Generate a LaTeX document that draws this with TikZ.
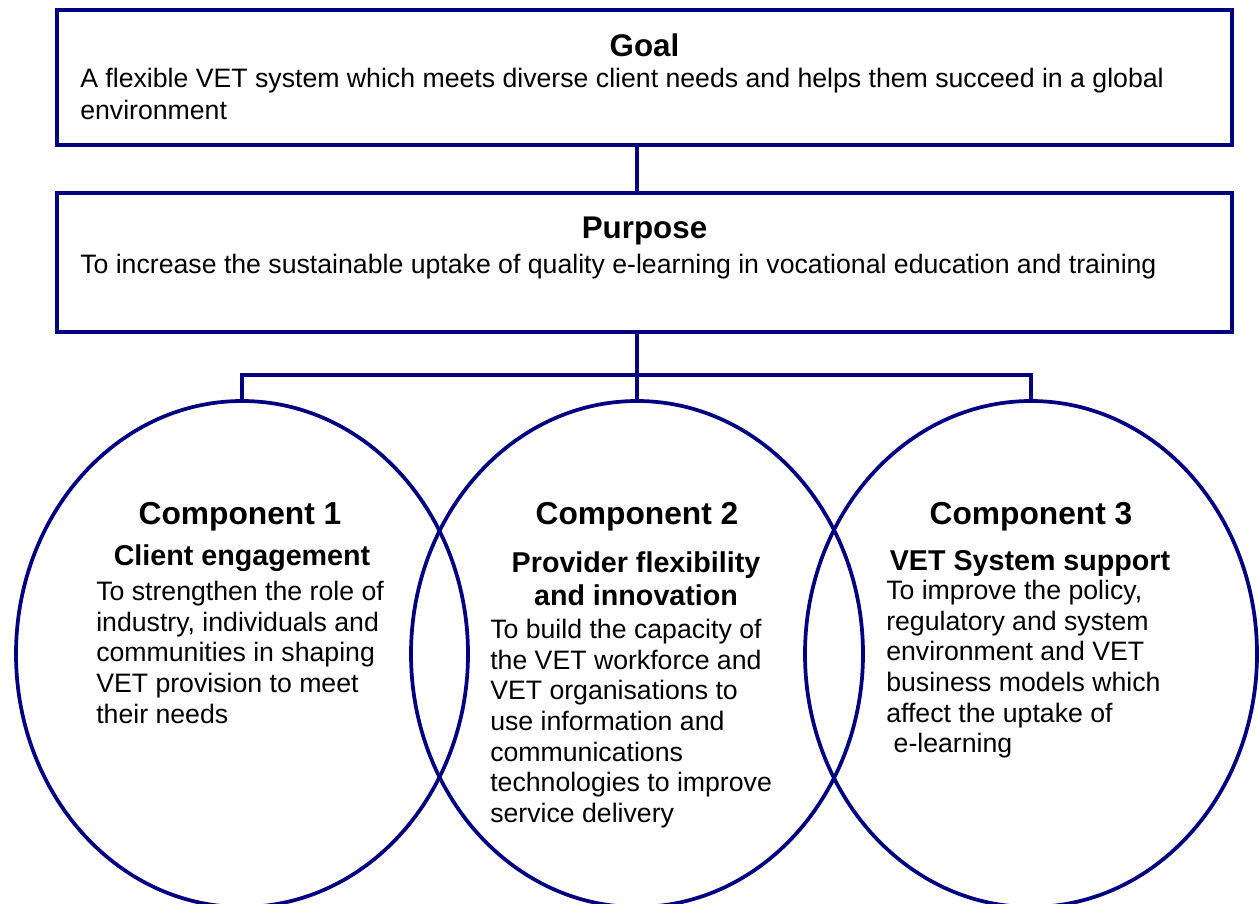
\documentclass[tikz,border=0pt]{standalone}
\usepackage{fontspec}
\setmainfont{Liberation Sans}
\usepackage{xcolor}
\usetikzlibrary{shapes.geometric, positioning, calc}
\definecolor{navyline}{RGB}{0,0,128}

\tikzset{
  panel/.style={draw=navyline, line width=2.8pt, minimum width=881.25pt, inner sep=0pt},
  part/.style={ellipse, draw=navyline, line width=2.8pt, minimum width=339pt, minimum height=379.5pt, inner sep=0pt},
  link/.style={draw=navyline, line width=2.8pt},
  title/.style={font=\bfseries\fontsize{23.5}{28}\selectfont, anchor=base, inner sep=0pt},
  heading/.style={font=\bfseries\fontsize{23.8}{28}\selectfont, anchor=base, inner sep=0pt},
  subhead/.style={font=\bfseries\fontsize{21.5}{24.75}\selectfont, align=center, anchor=north, inner sep=0pt},
  body/.style={font=\fontsize{20}{23}\selectfont, align=left, anchor=north west, inner sep=0pt}
}

\begin{document}
\begin{tikzpicture}[x=0.75pt, y=-0.75pt]
  \useasboundingbox (0,0) rectangle (1259,903);
  \clip (0,0) rectangle (1259,903);

  % Goal and purpose boxes
  \node[panel, minimum height=101.25pt] (goal) at (644.5,77.5) {};
  \node[title] (goaltitle) at (644.5,56) {Goal};
  \node[body, font=\fontsize{20}{24}\selectfont] (goaltext) at (80,68)
    {A flexible VET system which meets diverse client needs and helps them succeed in a global\\environment};

  \node[panel, minimum height=104.25pt] (purpose) at (644.5,262.5) {};
  \node[title] (purposetitle) at (644.5,238) {Purpose};
  \node[body] (purposetext) at (80,254)
    {To increase the sustainable uptake of quality e-learning in vocational education and training};

  % Components
  \node[part] (comp1) at (242,654) {};
  \node[part] (comp2) at (637,654) {};
  \node[part] (comp3) at (1031,654) {};

  \node[heading] (head1) at (240,524) {Component 1};
  \node[subhead] (sub1) at (242,544) {Client engagement};
  \node[body] (text1) at (96,581)
    {To strengthen the role of\\industry, individuals and\\communities in shaping\\VET provision to meet\\their needs};

  \node[heading] (head2) at (637,524) {Component 2};
  \node[subhead] (sub2) at (636,551) {Provider flexibility\\and innovation};
  \node[body] (text2) at (490,619)
    {To build the capacity of\\the VET workforce and\\VET organisations to\\use information and\\communications\\technologies to improve\\service delivery};

  \node[heading] (head3) at (1031,524) {Component 3};
  \node[subhead] (sub3) at (1030,550) {VET System support};
  \node[body] (text3) at (886,580)
    {To improve the policy,\\regulatory and system\\environment and VET\\business models which\\affect the uptake of\\\ e-learning};

  % Connectors
  \coordinate (bar) at (637,375);
  \draw[link] (goal.south -| comp2.north) -- (purpose.north -| comp2.north);
  \draw[link] (purpose.south -| comp2.north) -- (comp2.north);
  \draw[link] (comp1.north) |- (bar) -| (comp3.north);
\end{tikzpicture}
\end{document}
